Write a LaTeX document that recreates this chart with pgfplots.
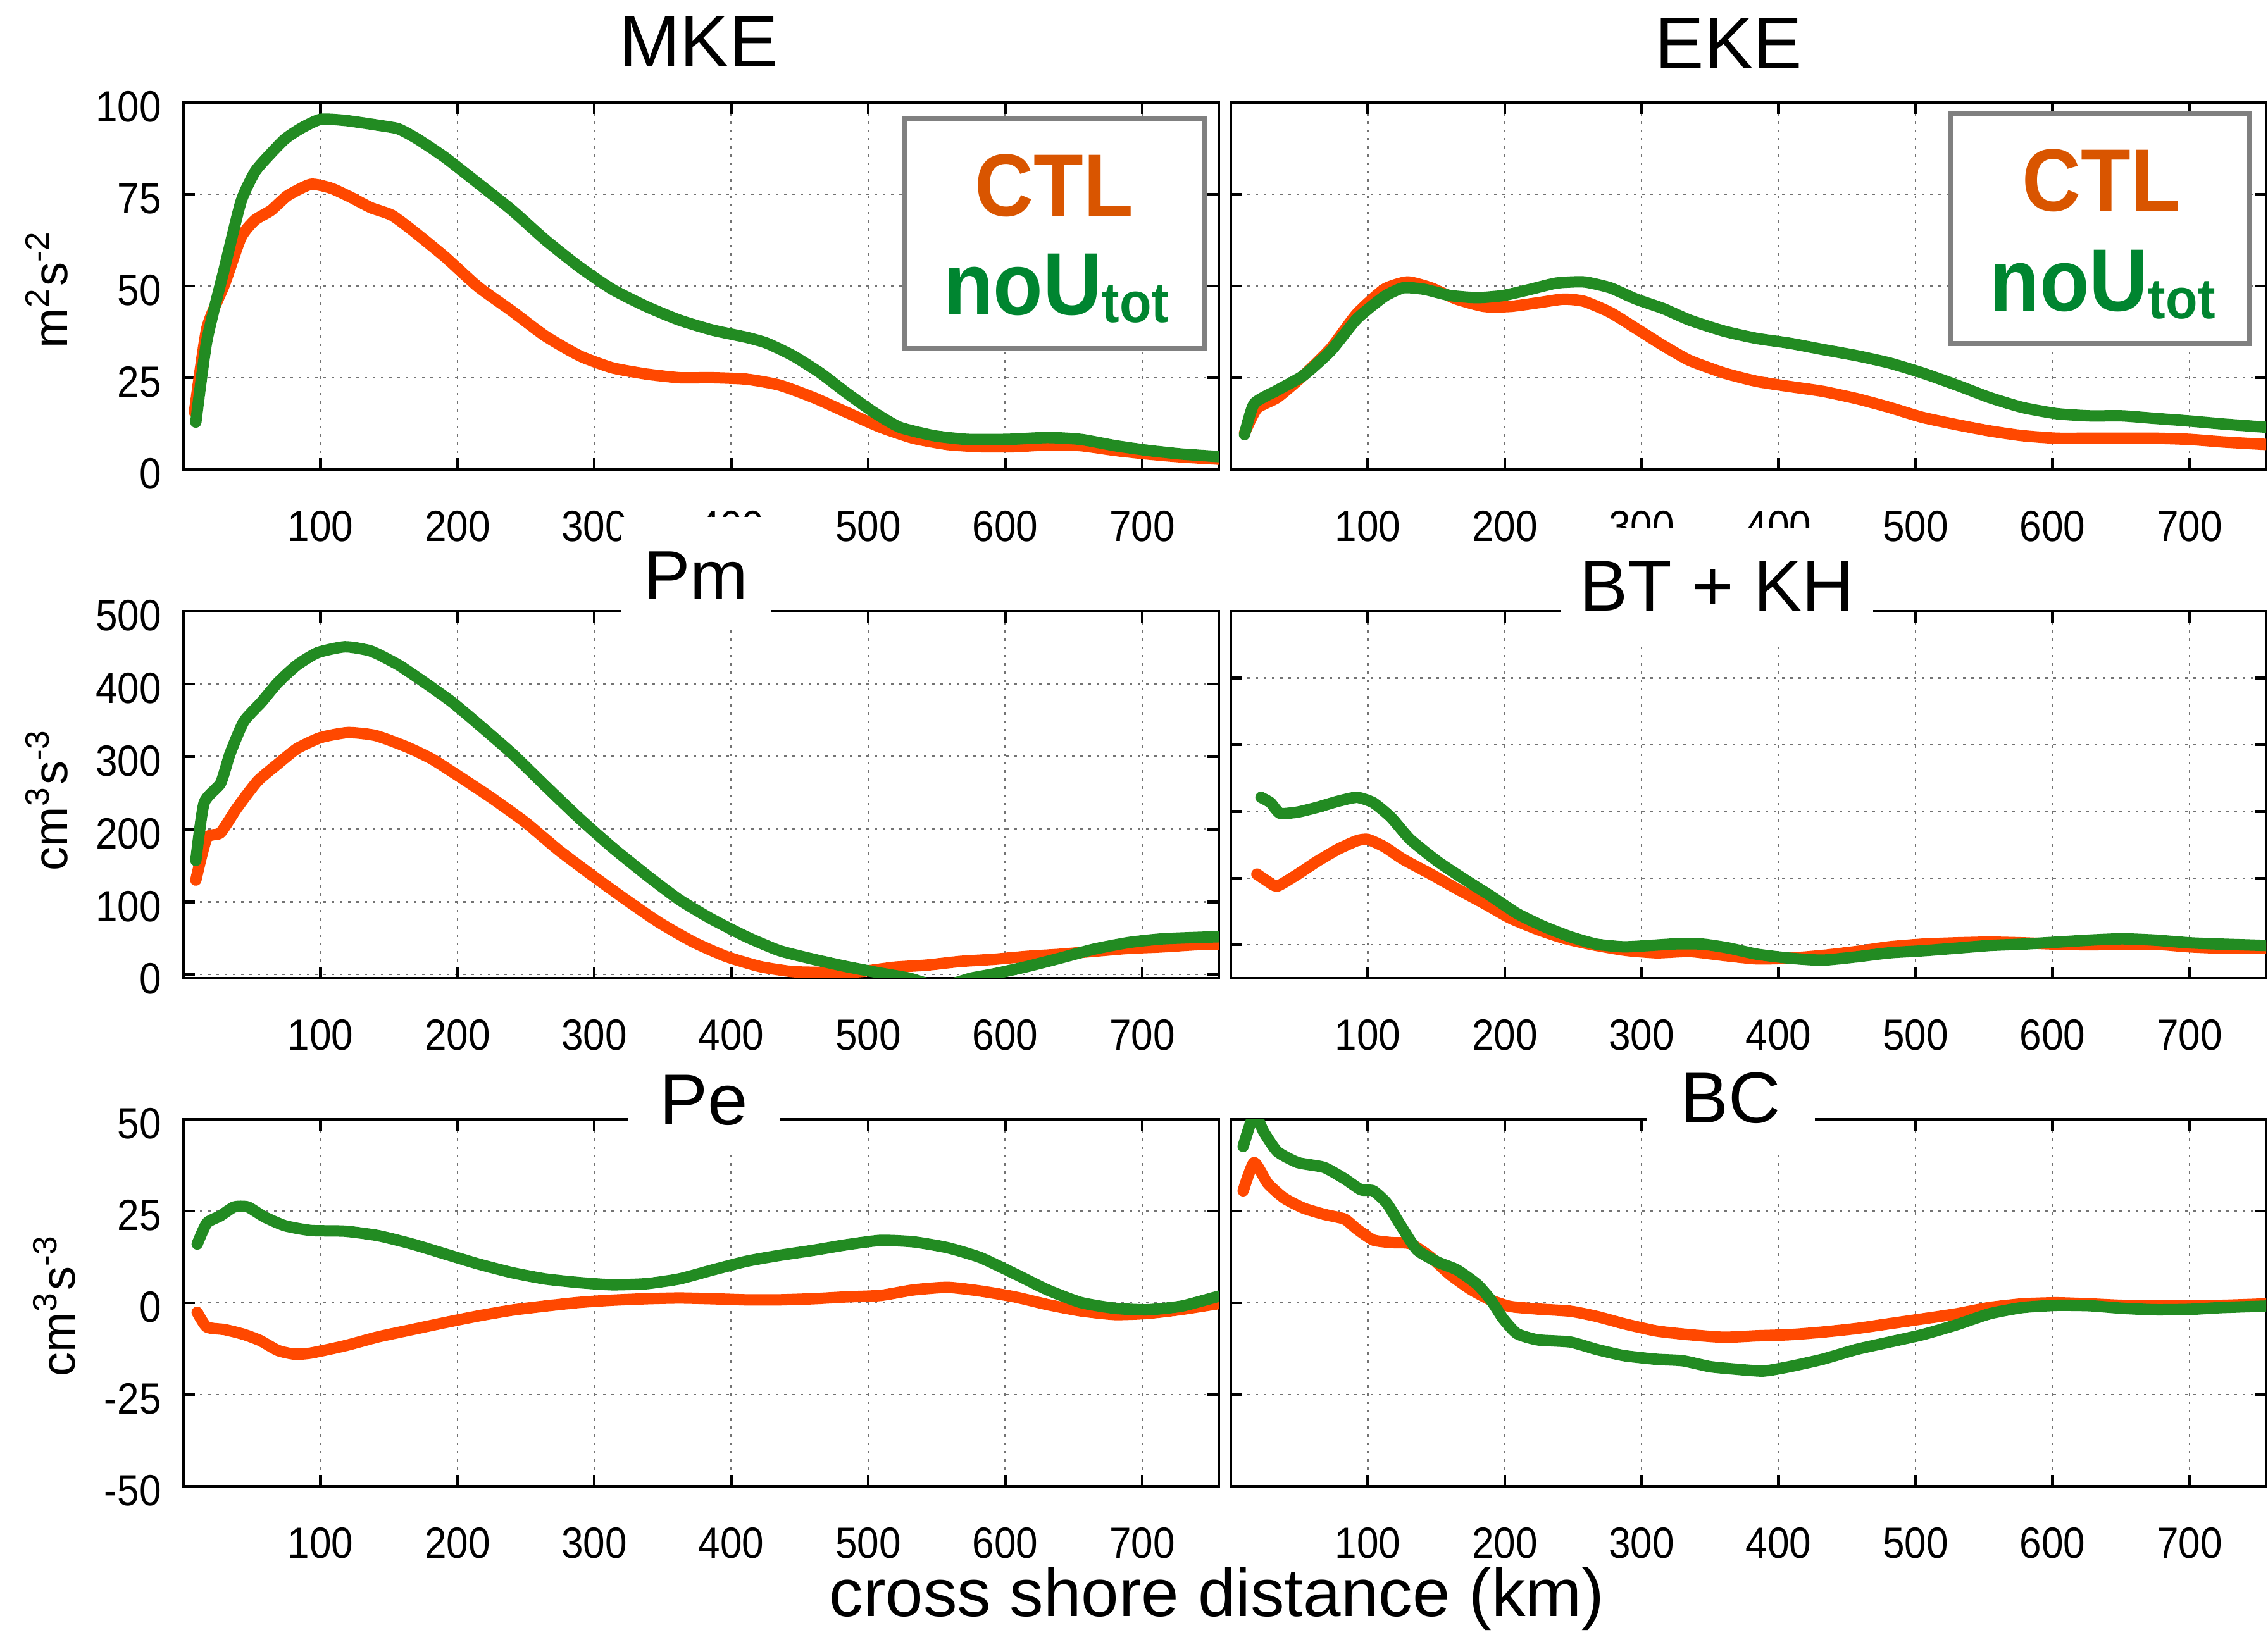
\documentclass[border=0pt]{standalone}
\usepackage{fontspec}
\setmainfont{Liberation Sans}
\newfontfamily\tickfont[FakeStretch=0.9]{Liberation Sans}
\newfontfamily\legfont[FakeStretch=0.92]{Liberation Sans}
\usepackage{pgfplots}
\pgfplotsset{compat=1.18}

\definecolor{ctl}{RGB}{255,72,0}
\definecolor{nou}{RGB}{34,139,34}
\definecolor{ctltxt}{RGB}{217,85,0}
\definecolor{noutxt}{RGB}{0,133,48}
\definecolor{boxgray}{RGB}{128,128,128}

\pgfplotsset{
  panel/.style={
    scale only axis, width=163.6pt, height=58pt, anchor=south west,
    xmin=0, xmax=756, xtick={100,200,...,700},
    axis line style={line width=0.45pt},
    tick style={black, line width=0.45pt},
    major tick length=1.8pt,
    tick align=inside,
    grid=major,
    major grid style={black!55, line width=0.25pt, dash pattern=on 0.4pt off 0.9pt},
    /pgf/number format/assume math mode=true,
    ticklabel style={font=\tickfont\fontsize{6.9}{7}\selectfont},
    xticklabel style={yshift=-3pt},
    yticklabel style={yshift=-0.7pt},
    every axis plot/.append style={line width=1.8pt, line join=round, line cap=round, smooth, tension=0.35},
  },
  noylab/.style={yticklabels={}},
}

\newcommand\legtext[1]{\legfont\bfseries\fontsize{14}{14}\selectfont #1}
\newcommand\noutot{noU\raisebox{-1.2pt}{\fontsize{9}{9}\selectfont tot}}

\begin{document}
\begin{tikzpicture}
\useasboundingbox (0,0) rectangle (358.4pt,258.4pt);

% ---------- row 1: MKE ----------
\begin{axis}[panel, at={(29pt,184.2pt)}, ymin=0, ymax=100, ytick={0,25,50,75,100}]
  \addplot[ctl] coordinates {(8,15.6)(17,38.4)(30,50.5)(42,63.2)(52,67.9)(64,70.6)(76,74.6)(93,77.7)(108,76.6)(123,74)(137,71.3)(152,69.3)(167,65.2)(191,57.9)(215,49.8)(240,43.1)(264,36.4)(289,31)(313,27.7)(338,26)(362,25)(386,25)(411,24.6)(435,23)(460,19.6)(484,15.6)(509,11.5)(533,8.5)(558,6.8)(582,6.2)(607,6.2)(631,6.7)(655,6.5)(680,5.2)(704,4.2)(729,3.4)(756,2.8)};
  \addplot[nou] coordinates {(9,12.9)(17,35)(30,55)(42,73)(52,81)(61,85)(74,90)(86,93)(100,95.4)(118,95.1)(142,93.8)(157,92.8)(171,90)(191,85)(215,78)(240,70.6)(264,62.6)(289,55.2)(313,49.1)(338,44.4)(362,40.7)(386,38)(411,36)(426,34.4)(445,31)(465,26.3)(484,20.9)(504,15.6)(523,11.5)(548,9.2)(572,8.2)(602,8.2)(631,8.7)(655,8.2)(680,6.5)(704,5.2)(729,4.2)(756,3.5)};
  \draw[boxgray, line width=0.8pt, fill=white] (rel axis cs:0.696,0.329) rectangle (rel axis cs:0.986,0.957);
  \node[anchor=base, ctltxt, font=\legtext{}] at (rel axis cs:0.841,0.691) {CTL};
  \node[anchor=base, noutxt, font=\legtext{}] at (rel axis cs:0.843,0.421) {\noutot};
\end{axis}

% ---------- row 1: EKE ----------
\begin{axis}[panel, noylab, at={(194.5pt,184.2pt)}, ymin=0, ymax=100, ytick={0,25,50,75,100}]
  \addplot[ctl] coordinates {(10,9.9)(19,16.6)(34,19.6)(53,25.6)(73,33)(92,42.4)(112,49.1)(129,51.1)(146,49.5)(165,46.4)(185,44.4)(204,44.4)(224,45.4)(243,46.4)(258,45.8)(277,42.8)(296,38.4)(316,33.7)(335,29.7)(360,26.3)(384,24)(408,22.6)(432,21.3)(457,19.3)(481,16.9)(505,14.2)(530,12.2)(554,10.5)(578,9.2)(603,8.5)(627,8.5)(651,8.5)(675,8.5)(700,8.2)(724,7.5)(756,6.8)};
  \addplot[nou] coordinates {(10,9.5)(17,17.9)(34,21.6)(53,25.6)(73,32.3)(92,41)(112,47.1)(126,49.5)(141,49.1)(160,47.4)(180,46.8)(199,47.4)(219,49.1)(238,50.8)(258,51.1)(277,49.5)(296,46.4)(316,43.8)(335,40.7)(360,37.7)(384,35.7)(408,34.4)(432,32.7)(457,31)(481,29)(505,26.3)(530,23)(554,19.6)(578,16.9)(603,15.2)(627,14.6)(651,14.6)(675,13.9)(700,13.2)(724,12.4)(756,11.5)};
  \draw[boxgray, line width=0.8pt, fill=white] (rel axis cs:0.695,0.343) rectangle (rel axis cs:0.984,0.971);
  \node[anchor=base, ctltxt, font=\legtext{}] at (rel axis cs:0.841,0.705) {CTL};
  \node[anchor=base, noutxt, font=\legtext{}] at (rel axis cs:0.842,0.431) {\noutot};
\end{axis}

% ---------- row 2: Pm ----------
\begin{axis}[panel, at={(29pt,103.8pt)}, ymin=-5, ymax=500, ytick={0,100,...,500}]
  \addplot[ctl] coordinates {(9,130)(17,188)(27,195)(39,229)(54,266)(69,290)(83,311)(100,326)(120,333)(140,329)(162,314)(181,297)(201,273)(225,243)(250,209)(274,171)(298,137)(323,103)(347,72)(372,45)(396,25)(421,11)(445,4)(470,3)(494,4)(519,10)(543,13)(567,18)(592,21)(616,25)(641,28)(665,32)(690,36)(714,38)(739,41)(756,42)};
  \addplot[nou] coordinates {(9,157)(15,236)(27,263)(34,304)(44,348)(57,375)(69,402)(83,426)(98,443)(118,451)(137,445)(157,426)(176,402)(196,375)(215,345)(240,304)(264,260)(289,215)(313,175)(338,137)(362,103)(386,76)(411,52)(435,33)(460,21)(484,11)(509,2)(530,-5)(544,-13)(552,-16)(561,-13)(575,-5)(592,1)(616,11)(641,23)(665,35)(690,44)(714,49)(739,51)(756,52)};
\end{axis}

% ---------- row 2: BT + KH ----------
\begin{axis}[panel, noylab, at={(194.5pt,103.8pt)}, ymin=-50, ymax=500, ytick={0,100,...,500}]
  \addplot[ctl] coordinates {(19,106)(27,95)(34,88)(49,106)(63,125)(78,143)(92,156)(100,158)(112,147)(126,128)(146,106)(165,84)(185,62)(204,40)(224,23)(243,10)(262,1)(287,-8)(311,-12)(335,-10)(360,-16)(384,-21)(408,-20)(432,-16)(457,-10)(481,-3)(505,1)(530,3)(554,4)(578,3)(603,1)(627,0)(651,1)(675,1)(700,-3)(724,-5)(756,-5)};
  \addplot[nou] coordinates {(22,221)(29,213)(36,197)(49,199)(63,206)(78,215)(92,221)(104,213)(117,191)(131,158)(151,125)(170,99)(190,73)(209,47)(228,28)(248,12)(267,1)(287,-3)(306,-1)(326,1.5)(345,1)(364,-5)(384,-14)(408,-20)(432,-23)(457,-18)(481,-12)(505,-9)(530,-5)(554,-1)(578,1)(603,4)(627,7)(651,9)(675,7)(700,3)(724,1)(756,-1)};
\end{axis}

% ---------- row 3: Pe ----------
\begin{axis}[panel, at={(29pt,23.5pt)}, ymin=-50, ymax=50, ytick={-50,-25,0,25,50}]
  \addplot[ctl] coordinates {(10,-2.6)(17,-6.6)(30,-7.3)(44,-8.6)(56,-10.3)(69,-13)(81,-14)(93,-13.7)(118,-11.7)(142,-9.3)(167,-7.3)(191,-5.4)(215,-3.6)(240,-2)(264,-0.9)(289,0.1)(313,0.7)(338,1.1)(362,1.3)(386,1.1)(411,0.8)(435,0.8)(460,1.1)(484,1.6)(509,2)(533,3.5)(558,4.2)(582,3.2)(607,1.6)(631,-0.5)(655,-2.2)(680,-3.2)(704,-2.9)(729,-1.8)(756,-0.2)};
  \addplot[nou] coordinates {(10,16)(17,21.7)(27,23.7)(37,26.1)(47,26.1)(59,23.4)(74,21)(93,19.7)(118,19.5)(142,18.3)(167,16)(191,13.3)(215,10.6)(240,8.2)(264,6.5)(289,5.5)(313,4.9)(338,5.2)(362,6.5)(386,8.9)(411,11.3)(435,12.9)(460,14.3)(484,15.8)(509,17)(533,16.6)(558,15)(582,12.3)(607,7.9)(631,3.5)(655,0.1)(680,-1.5)(704,-1.9)(729,-0.9)(756,1.8)};
\end{axis}

% ---------- row 3: BC ----------
\begin{axis}[panel, noylab, at={(194.5pt,23.5pt)}, ymin=-50, ymax=50, ytick={-50,-25,0,25,50}]
  \addplot[ctl] coordinates {(9,30.5)(17,38.2)(27,32.5)(39,28.5)(53,25.8)(68,24.1)(83,22.8)(92,20.1)(104,17.1)(117,16.4)(131,16.1)(146,12.4)(160,7.7)(175,3.7)(190,0.7)(204,-1)(224,-1.7)(248,-2.3)(267,-3.7)(287,-5.7)(311,-7.7)(335,-8.7)(360,-9.4)(384,-9)(408,-8.7)(432,-8)(457,-7)(481,-5.7)(505,-4.4)(530,-3)(554,-1.3)(578,-0.3)(603,0)(627,-0.3)(651,-0.7)(675,-0.7)(700,-0.7)(724,-0.7)(756,-0.3)};
  \addplot[nou] coordinates {(9,42.6)(15,49.6)(19,50.6)(24,46.6)(34,41.2)(49,38.2)(68,36.9)(83,33.8)(95,30.8)(104,30.5)(114,27.1)(124,21.1)(136,14.4)(151,11.1)(165,9)(180,5)(190,0.7)(199,-4.4)(209,-8.4)(224,-10.1)(248,-10.7)(267,-12.7)(287,-14.4)(311,-15.4)(330,-15.8)(350,-17.4)(369,-18.1)(389,-18.6)(408,-17.4)(432,-15.4)(457,-12.7)(481,-10.7)(505,-8.7)(530,-6)(554,-3)(578,-1.3)(603,-0.7)(627,-0.8)(651,-1.5)(675,-1.9)(700,-1.8)(724,-1.3)(756,-0.9)};
\end{axis}

% ---------- titles ----------
\tikzset{ttl/.style={anchor=base, fill=white, inner xsep=0pt, text height=8.3pt, text depth=0pt, inner ysep=4.8pt, font=\fontsize{11.4}{12}\selectfont}}
\node[anchor=base, font=\fontsize{11.6}{12}\selectfont] at (110.4pt,247.8pt) {MKE};
\node[anchor=base, font=\fontsize{11.6}{12}\selectfont] at (273.2pt,247.5pt) {EKE};
\node[ttl, minimum width=23.6pt, font=\fontsize{11}{12}\selectfont] at (110.0pt,163.6pt) {Pm};
\node[ttl, minimum width=49.4pt] at (271.3pt,161.8pt) {BT + KH};
\node[ttl, minimum width=24.1pt, text height=5pt] at (111.2pt,80.6pt) {Pe};
\node[ttl, minimum width=26.5pt, text height=5pt] at (273.5pt,80.9pt) {BC};

% ---------- axis labels ----------
\tikzset{ylab/.style={rotate=90, anchor=base, font=\fontsize{7.6}{8}\selectfont}}
\node[ylab] at (10.6pt,212.8pt) {m\textsuperscript{2}s\textsuperscript{-2}};
\node[ylab] at (10.6pt,132.1pt) {cm\textsuperscript{3}s\textsuperscript{-3}};
\node[ylab] at (11.8pt,52.2pt) {cm\textsuperscript{3}s\textsuperscript{-3}};
\node[anchor=base, font=\fontsize{10.7}{12}\selectfont] at (192.3pt,2.9pt) {cross shore distance (km)};
\end{tikzpicture}
\end{document}
